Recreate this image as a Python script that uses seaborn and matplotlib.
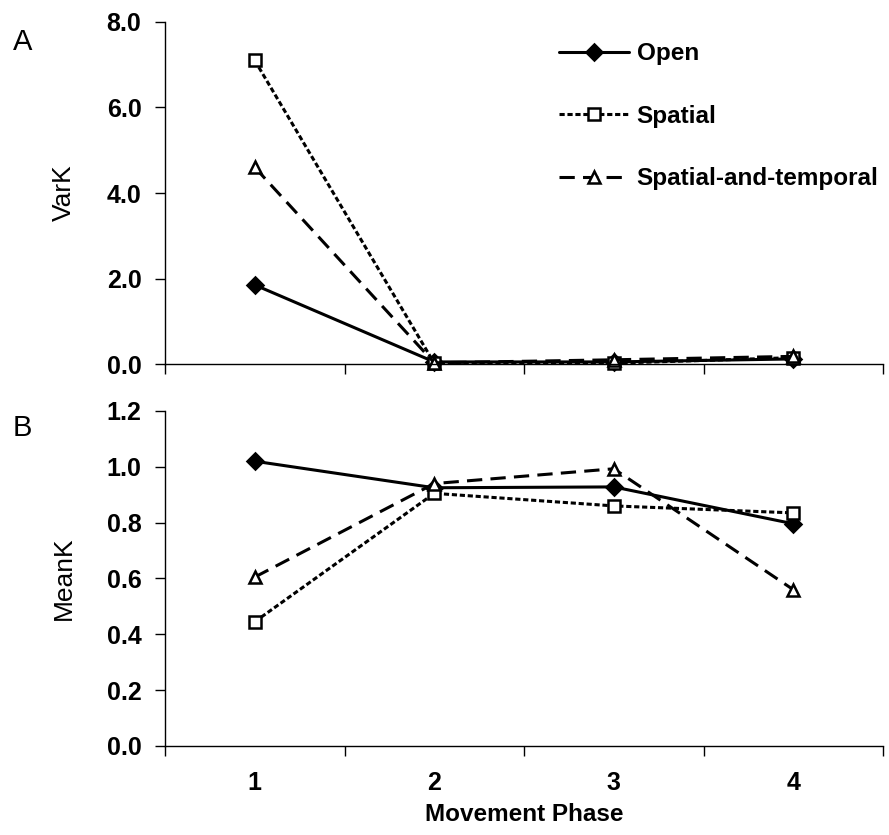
import numpy as np
import pandas as pd
import matplotlib
matplotlib.use("Agg")
import matplotlib.pyplot as plt
import seaborn as sns
from matplotlib.ticker import FormatStrFormatter

# data
phases = [1, 2, 3, 4]
conditions = ["Open", "Spatial", "Spatial-and-temporal"]
vark_open = [1.85, 0.05, 0.05, 0.12]
vark_spatial = [7.1, 0.02, 0.02, 0.15]
vark_spt = [4.6, 0.03, 0.10, 0.18]
meank_open = [1.02, 0.925, 0.928, 0.796]
meank_spatial = [0.445, 0.905, 0.860, 0.835]
meank_spt = [0.605, 0.940, 0.993, 0.560]

sns.set_style("white")
plt.rcParams["font.family"] = ["Liberation Sans", "DejaVu Sans"]
plt.rcParams.update({"text.color": "black", "axes.labelcolor": "black",
                     "xtick.color": "black", "ytick.color": "black"})

rows = []
for cond, vk, mk in zip(conditions, [vark_open, vark_spatial, vark_spt],
                        [meank_open, meank_spatial, meank_spt]):
    for p, v, m in zip(phases, vk, mk):
        rows.append({"phase": p, "condition": cond, "VarK": v, "MeanK": m})
df = pd.DataFrame(rows)

styles = {
    "Open": dict(marker="D", markerfacecolor="black", markersize=8.5, linestyle="-"),
    "Spatial": dict(marker="s", markerfacecolor="white", markersize=9, linestyle=(0, (1.7, 0.9))),
    "Spatial-and-temporal": dict(marker="^", markerfacecolor="white", markersize=9, linestyle=(0, (5, 2.7))),
}

fig = plt.figure(figsize=(8.89, 8.35), dpi=100)
axA = fig.add_axes([0.1856, 0.564, 0.8077, 0.4097])
axB = fig.add_axes([0.1856, 0.1066, 0.8077, 0.4012])

for ax, col, ymax, ystep in [(axA, "VarK", 8.0, 2.0), (axB, "MeanK", 1.2, 0.2)]:
    for cond in conditions:
        sub = df[df["condition"] == cond]
        sns.lineplot(data=sub, x="phase", y=col, ax=ax, color="black", lw=2.2,
                     markeredgecolor="black", markeredgewidth=1.8, clip_on=False,
                     label=cond if ax is axA else None, **styles[cond])
    ax.set_xlim(0.5, 4.5)
    ax.set_ylim(0, ymax)
    ax.set_yticks(np.arange(0, ymax + ystep / 2, ystep))
    ax.yaxis.set_major_formatter(FormatStrFormatter("%.1f"))
    ax.set_xticks(phases)
    ax.set_xticks([0.5, 1.5, 2.5, 3.5, 4.5], minor=True)
    ax.tick_params(axis="x", which="major", bottom=True, length=0, pad=18, labelsize=18)
    ax.tick_params(axis="x", which="minor", bottom=True, length=7, width=1, direction="out")
    ax.tick_params(axis="y", left=True, length=7, width=1, direction="out", labelsize=18, pad=10)
    for lab in ax.get_xticklabels() + ax.get_yticklabels():
        lab.set_fontweight("bold")
    for s in ["top", "right"]:
        ax.spines[s].set_visible(False)
    for s in ["left", "bottom"]:
        ax.spines[s].set_color("black")
        ax.spines[s].set_linewidth(1)
    ax.set_ylabel(col, fontsize=19, labelpad=22)
    ax.set_xlabel("")

axA.set_xticklabels([])
axB.set_xlabel("Movement Phase", fontsize=17.5, fontweight="bold", labelpad=6)

leg = axA.legend(loc="upper left", bbox_to_anchor=(0.525, 0.99), frameon=False,
                 prop={"weight": "bold", "size": 17.5}, handlelength=2.9,
                 labelspacing=1.62, handletextpad=0.3, borderaxespad=0.3)

fig.text(0.014, 0.94, "A", fontsize=21)
fig.text(0.014, 0.478, "B", fontsize=21)

fig.savefig("out.png", dpi=100)
